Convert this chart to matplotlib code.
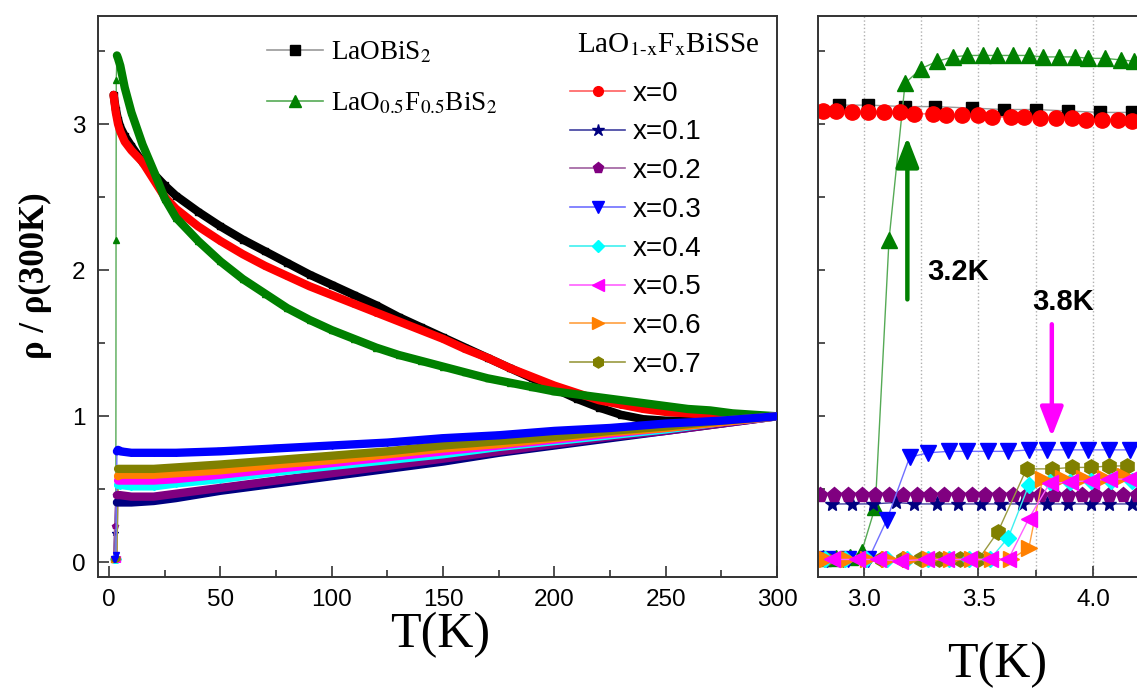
import matplotlib.pyplot as plt
from matplotlib.lines import Line2D
from matplotlib.ticker import MultipleLocator, NullFormatter

plt.rcParams['mathtext.fontset'] = 'stix'

# ---- left panel: rho/rho(300K) vs T, 2-300 K ----
T_main = [2, 3, 4, 5, 7, 10, 15, 20, 25, 30, 40, 50, 60, 70, 80, 90, 100, 110, 120, 130,
          140, 150, 160, 170, 180, 190, 200, 210, 220, 230, 240, 250, 260, 270, 280, 290, 300]
rho_LaOBiS2 = [3.20, 3.10, 3.03, 2.98, 2.92, 2.85, 2.74, 2.66, 2.58, 2.51, 2.40, 2.30, 2.21,
               2.13, 2.05, 1.97, 1.90, 1.83, 1.76, 1.68, 1.61, 1.54, 1.47, 1.40, 1.33, 1.26,
               1.19, 1.12, 1.06, 1.01, 0.98, 0.97, 0.97, 0.98, 0.99, 1.00, 1.00]
rho_x0 = [3.20, 3.08, 3.00, 2.95, 2.88, 2.82, 2.74, 2.62, 2.50, 2.42, 2.30, 2.20, 2.11,
          2.03, 1.96, 1.89, 1.83, 1.77, 1.71, 1.65, 1.59, 1.53, 1.46, 1.40, 1.33, 1.27,
          1.21, 1.16, 1.11, 1.08, 1.05, 1.03, 1.02, 1.01, 1.01, 1.00, 1.00]

T_F05 = [2, 2.5, 3.0, 3.1, 3.2, 3.5, 4, 5, 7, 10, 15, 20, 25, 30, 40, 50, 60, 70, 80, 90,
         100, 110, 120, 130, 140, 150, 160, 170, 180, 190, 200, 210, 220, 230, 240, 250,
         260, 270, 280, 290, 300]
rho_F05 = [0.02, 0.02, 0.05, 2.21, 3.30, 3.47, 3.45, 3.40, 3.25, 3.08, 2.86, 2.68, 2.49,
           2.36, 2.20, 2.06, 1.94, 1.84, 1.74, 1.66, 1.59, 1.53, 1.47, 1.42, 1.38, 1.34,
           1.30, 1.26, 1.23, 1.20, 1.17, 1.15, 1.13, 1.11, 1.09, 1.07, 1.05, 1.04, 1.02,
           1.01, 1.00]

T_low = [2, 2.5, 3, 3.5, 4, 5, 10, 20, 30, 50, 75, 100, 125, 150, 175, 200, 225, 250, 275, 300]
rho_x01 = [0.02, 0.20, 0.41, 0.41, 0.41, 0.41, 0.41, 0.42, 0.44, 0.49, 0.54, 0.59, 0.64,
           0.69, 0.75, 0.80, 0.85, 0.90, 0.95, 1.00]
rho_x02 = [0.02, 0.25, 0.46, 0.46, 0.46, 0.46, 0.45, 0.45, 0.47, 0.51, 0.56, 0.61, 0.66,
           0.71, 0.76, 0.81, 0.86, 0.90, 0.95, 1.00]
rho_x03 = [0.02, 0.02, 0.05, 0.76, 0.77, 0.76, 0.75, 0.75, 0.75, 0.76, 0.78, 0.80, 0.82,
           0.85, 0.87, 0.90, 0.92, 0.95, 0.97, 1.00]
rho_x04 = [0.02, 0.02, 0.02, 0.02, 0.53, 0.53, 0.52, 0.52, 0.54, 0.57, 0.62, 0.66, 0.70,
           0.74, 0.79, 0.83, 0.87, 0.91, 0.96, 1.00]
rho_x05 = [0.02, 0.02, 0.02, 0.02, 0.56, 0.56, 0.56, 0.56, 0.57, 0.60, 0.64, 0.68, 0.72,
           0.76, 0.80, 0.84, 0.88, 0.92, 0.96, 1.00]
rho_x06 = [0.02, 0.02, 0.02, 0.02, 0.59, 0.60, 0.60, 0.60, 0.61, 0.63, 0.67, 0.70, 0.74,
           0.78, 0.81, 0.85, 0.89, 0.92, 0.96, 1.00]
rho_x07 = [0.02, 0.02, 0.02, 0.03, 0.64, 0.64, 0.64, 0.64, 0.65, 0.67, 0.70, 0.73, 0.76,
           0.80, 0.83, 0.86, 0.90, 0.93, 0.97, 1.00]

# ---- right panel: zoom 2.8-4.2 K ----
rT_black = [2.89, 3.02, 3.18, 3.31, 3.47, 3.61, 3.75, 3.89, 4.03, 4.17]
rv_black = [3.13, 3.13, 3.12, 3.12, 3.11, 3.10, 3.10, 3.09, 3.08, 3.08]
rT_green = [2.82, 2.88, 2.94, 2.99, 3.05, 3.11, 3.18, 3.25, 3.32, 3.39, 3.45, 3.52, 3.58,
            3.65, 3.72, 3.78, 3.85, 3.92, 3.98, 4.05, 4.12, 4.18]
rv_green = [0.03, 0.03, 0.04, 0.07, 0.38, 2.21, 3.28, 3.38, 3.43, 3.46, 3.47, 3.47, 3.47,
            3.47, 3.47, 3.46, 3.46, 3.46, 3.45, 3.45, 3.44, 3.43]
rT_x0 = [2.82, 2.88, 2.95, 3.02, 3.09, 3.16, 3.22, 3.30, 3.36, 3.43, 3.50, 3.56, 3.64,
         3.70, 3.77, 3.84, 3.91, 3.97, 4.04, 4.11, 4.17]
rv_x0 = [3.09, 3.09, 3.08, 3.08, 3.08, 3.08, 3.07, 3.07, 3.06, 3.06, 3.06, 3.05, 3.05,
         3.05, 3.04, 3.04, 3.04, 3.03, 3.03, 3.03, 3.02]
rT_x01 = [2.86, 2.95, 3.04, 3.14, 3.22, 3.32, 3.41, 3.51, 3.60, 3.69, 3.80, 3.89, 3.99,
          4.07, 4.17]
rv_x01 = [0.40, 0.40, 0.40, 0.41, 0.40, 0.40, 0.40, 0.40, 0.40, 0.40, 0.40, 0.40, 0.40,
          0.40, 0.40]
rT_x02 = [2.81, 2.87, 2.93, 2.99, 3.05, 3.11, 3.17, 3.23, 3.29, 3.35, 3.41, 3.47, 3.53,
          3.59, 3.65, 3.71, 3.77, 3.83, 3.89, 3.95, 4.01, 4.07, 4.13, 4.19]
rv_x02 = [0.46, 0.46, 0.46, 0.46, 0.46, 0.46, 0.46, 0.46, 0.46, 0.46, 0.46, 0.46, 0.46,
          0.46, 0.46, 0.46, 0.46, 0.46, 0.46, 0.46, 0.46, 0.46, 0.46, 0.46]
rT_x03 = [2.84, 2.93, 3.02, 3.10, 3.20, 3.28, 3.37, 3.45, 3.54, 3.63, 3.72, 3.80, 3.89,
          3.98, 4.07, 4.16]
rv_x03 = [0.02, 0.02, 0.02, 0.29, 0.72, 0.75, 0.76, 0.76, 0.76, 0.76, 0.77, 0.77, 0.77,
          0.77, 0.77, 0.77]
rT_x04 = [2.83, 2.92, 3.01, 3.10, 3.19, 3.28, 3.37, 3.46, 3.55, 3.63, 3.72, 3.81, 3.90,
          3.99, 4.08, 4.17]
rv_x04 = [0.02, 0.02, 0.02, 0.02, 0.02, 0.02, 0.02, 0.02, 0.02, 0.17, 0.53, 0.55, 0.55,
          0.56, 0.56, 0.56]
rT_x05 = [2.86, 2.97, 3.06, 3.16, 3.27, 3.36, 3.46, 3.55, 3.63, 3.72, 3.81, 3.90, 3.99,
          4.07, 4.16]
rv_x05 = [0.02, 0.02, 0.02, 0.01, 0.02, 0.02, 0.02, 0.02, 0.02, 0.30, 0.54, 0.55, 0.56,
          0.57, 0.57]
rT_x06 = [2.84, 2.93, 3.02, 3.11, 3.20, 3.29, 3.38, 3.47, 3.56, 3.64, 3.72, 3.78, 3.87,
          3.96, 4.05, 4.14]
rv_x06 = [0.02, 0.02, 0.02, 0.02, 0.02, 0.02, 0.02, 0.02, 0.02, 0.02, 0.10, 0.57, 0.58,
          0.58, 0.58, 0.59]
rT_x07 = [2.83, 2.91, 3.00, 3.08, 3.17, 3.25, 3.33, 3.42, 3.50, 3.585, 3.71, 3.82, 3.91,
          3.99, 4.07, 4.15]
rv_x07 = [0.02, 0.02, 0.02, 0.02, 0.02, 0.02, 0.02, 0.02, 0.02, 0.21, 0.64, 0.64, 0.65,
          0.65, 0.66, 0.66]

x_labels = ['x=0', 'x=0.1', 'x=0.2', 'x=0.3', 'x=0.4', 'x=0.5', 'x=0.6', 'x=0.7']

# colour, marker, right-panel marker size, legend marker size, line colour
sty = {
    'bis2': ('black', 's', 8, 7, '#9a9a9a'),
    'f05': ('#008000', '^', 12, 8, '#55aa55'),
    'x0': ('#ff0000', 'o', 11, 7, '#ff6060'),
    'x01': ('#000080', '*', 11, 9, '#4040a0'),
    'x02': ('#800080', 'p', 11, 8, '#a060a0'),
    'x03': ('#0000ff', 'v', 12, 8, '#7070ff'),
    'x04': ('#00ffff', 'D', 8, 6, '#40f0f0'),
    'x05': ('#ff00ff', '<', 12, 8, '#ff60ff'),
    'x06': ('#ff8000', '>', 12, 8, '#ffa040'),
    'x07': ('#808000', 'h', 11, 8, '#9a9a40'),
}

fig = plt.figure(figsize=(11.37, 6.9), dpi=100)
ax1 = fig.add_axes([0.0862, 0.1638, 0.5972, 0.813])
ax2 = fig.add_axes([0.7194, 0.1638, 0.2823, 0.813])

left = [
    ('bis2', T_main, rho_LaOBiS2, 0),
    ('x0', T_main, rho_x0, 0),
    ('f05', T_F05, rho_F05, 5),
    ('x01', T_low, rho_x01, 3),
    ('x02', T_low, rho_x02, 3),
    ('x04', T_low, rho_x04, 4),
    ('x05', T_low, rho_x05, 4),
    ('x06', T_low, rho_x06, 4),
    ('x07', T_low, rho_x07, 4),
    ('x03', T_low, rho_x03, 3),
]
for key, T, v, i0 in left:
    c, m = sty[key][0], sty[key][1]
    ax1.plot(T, v, color=sty[key][4], lw=1, marker=m, ms=4, mfc=c, mec=c, zorder=2)
    ax1.plot(T[i0:], v[i0:], color=c, lw=6, solid_capstyle='round', zorder=3)

right = [
    ('bis2', rT_black, rv_black),
    ('f05', rT_green, rv_green),
    ('x0', rT_x0, rv_x0),
    ('x01', rT_x01, rv_x01),
    ('x02', rT_x02, rv_x02),
    ('x03', rT_x03, rv_x03),
    ('x07', rT_x07, rv_x07),
    ('x04', rT_x04, rv_x04),
    ('x06', rT_x06, rv_x06),
    ('x05', rT_x05, rv_x05),
]
for key, T, v in right:
    c, m, ms, _, lc = sty[key]
    ax2.plot(T, v, color=lc, lw=1, marker=m, ms=ms, mfc=c, mec=c)

# axes styling
for ax in (ax1, ax2):
    for s in ax.spines.values():
        s.set_color('#333333')
        s.set_linewidth(1.4)
    ax.set_ylim(-0.1, 3.74)
    ax.tick_params(which='both', direction='in', width=1.2, colors='#333333',
                   labelcolor='black', labelsize=17.5, pad=9)
    ax.tick_params(which='major', length=8)
    ax.tick_params(which='minor', length=5)

ax1.set_xlim(-5, 300)
ax1.set_xticks([0, 50, 100, 150, 200, 250, 300])
ax1.set_xticklabels(['0', '50', '100', '150', '200', '250', '300'], fontfamily='Liberation Sans')
ax1.xaxis.set_minor_locator(MultipleLocator(25))
ax1.set_yticks([0, 1, 2, 3])
ax1.set_yticklabels(['0', '1', '2', '3'], fontfamily='Liberation Sans')
ax1.yaxis.set_minor_locator(MultipleLocator(0.5))

ax2.set_xlim(2.8, 4.2)
ax2.set_xticks([3.0, 3.5, 4.0])
ax2.set_xticklabels(['3.0', '3.5', '4.0'], fontfamily='Liberation Sans')
ax2.xaxis.set_minor_locator(MultipleLocator(0.25))
ax2.yaxis.set_major_locator(MultipleLocator(0.5))
ax2.yaxis.set_major_formatter(NullFormatter())
ax2.tick_params(axis='y', which='major', length=5)
ax2.grid(True, axis='x', which='both', linestyle=':', color='#b0b0b0', lw=1)
ax2.spines['right'].set_visible(False)

ax1.set_xlabel('T(K)', fontfamily='Liberation Serif', fontsize=36)
ax1.xaxis.set_label_coords(0.504, -0.062)
ax2.set_xlabel('T(K)', fontfamily='Liberation Serif', fontsize=36)
ax2.xaxis.set_label_coords(0.558, -0.115)
ax1.set_ylabel('ρ / ρ(300K)', fontfamily='Liberation Serif', fontweight='bold', fontsize=25)
ax1.yaxis.set_label_coords(-0.068, 0.537)

# annotations
ax2.annotate('', xy=(3.19, 2.91), xytext=(3.19, 1.80),
             arrowprops=dict(arrowstyle='-|>,head_length=0.9,head_width=0.35',
                             color='#008000', lw=3.2, mutation_scale=20, shrinkA=0, shrinkB=0))
ax2.annotate('', xy=(3.82, 0.86), xytext=(3.82, 1.63),
             arrowprops=dict(arrowstyle='-|>,head_length=0.9,head_width=0.35',
                             color='#ff00ff', lw=3.2, mutation_scale=20, shrinkA=0, shrinkB=0))
ax2.text(3.41, 1.99, '3.2K', fontfamily='Liberation Sans', fontweight='bold', fontsize=21,
         ha='center', va='center')
ax2.text(3.87, 1.78, '3.8K', fontfamily='Liberation Sans', fontweight='bold', fontsize=21,
         ha='center', va='center')


def proxy(key):
    c, m, _, lms, lc = sty[key]
    return Line2D([], [], color=lc, lw=1.2, marker=m, ms=lms, mfc=c, mec=c)


leg1 = ax1.legend([proxy('bis2'), proxy('f05')],
                  ['LaOBiS$_2$', 'LaO$_{0.5}$F$_{0.5}$BiS$_2$'],
                  loc='upper left', bbox_to_anchor=(0.249, 0.958), frameon=False,
                  prop={'family': 'Liberation Serif', 'size': 19.5}, borderpad=0,
                  handlelength=2.05, handletextpad=0.3, labelspacing=0.95, borderaxespad=0)
ax1.add_artist(leg1)

keys2 = ['x0', 'x01', 'x02', 'x03', 'x04', 'x05', 'x06', 'x07']
ax1.legend([proxy(k) for k in keys2], x_labels,
           loc='upper left', bbox_to_anchor=(0.695, 0.885), frameon=False,
           prop={'family': 'Liberation Sans', 'size': 20}, borderpad=0,
           handlelength=2.0, handletextpad=0.25, labelspacing=0.46, borderaxespad=0)
ax1.text(0.706, 0.935, r'LaO$_{\text{1-x}}$F$_{\text{x}}$BiSSe', transform=ax1.transAxes,
         fontfamily='Liberation Serif', fontsize=21, ha='left', va='baseline')

fig.savefig('out.png', dpi=100)
